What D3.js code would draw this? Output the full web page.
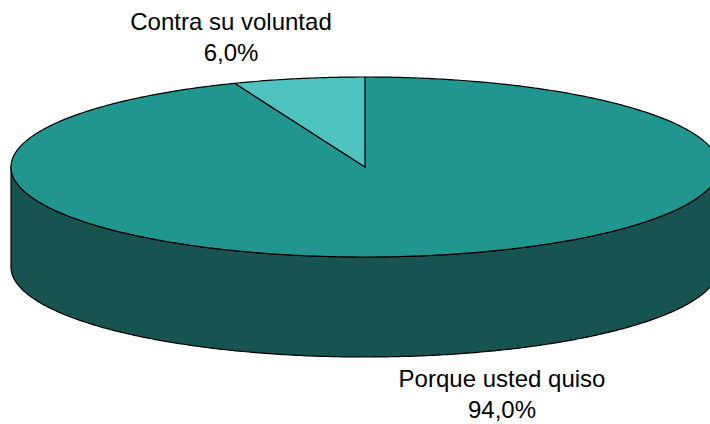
<!DOCTYPE html>
<html>
<head>
<meta charset="utf-8">
<script src="https://cdn.jsdelivr.net/npm/d3@7"></script>
<style>
  body { margin: 0; background: #fff; }
  svg { display: block; }
</style>
</head>
<body>
<script>
// data
const categories = ["Porque usted quiso", "Contra su voluntad"];
const values = [94.0, 6.0];
const valueLabels = ["94,0%", "6,0%"];

const width = 710, height = 424;
const cx = 365, cy = 167, rx = 354, ry = 90, depth = 100;

const topColors = ["#20968f", "#4fc3bf"];
const sideColor = "#175451";

const svg = d3.select("body").append("svg")
    .attr("width", width)
    .attr("height", height);

const pie = d3.pie().sort(null).value(d => d)(values);

// angle in d3 convention (clockwise from 12 o'clock) -> point on ellipse
const pt = (a, dy = 0) => [cx + rx * Math.sin(a), cy - ry * Math.cos(a) + dy];
const line = d3.line();

function arcPoints(a0, a1, dy) {
    const n = Math.max(2, Math.ceil(Math.abs(a1 - a0) / 0.01));
    return d3.range(n + 1).map(i => pt(a0 + (a1 - a0) * i / n, dy));
}

// outer side walls (front half only)
pie.forEach((p, i) => {
    const a0 = Math.max(p.startAngle, Math.PI / 2);
    const a1 = Math.min(p.endAngle, 3 * Math.PI / 2);
    if (a1 <= a0) return;
    const pts = arcPoints(a0, a1, 0).concat(arcPoints(a1, a0, depth));
    svg.append("path")
        .attr("d", line(pts) + "Z")
        .attr("fill", sideColor)
        .attr("stroke", "#000")
        .attr("stroke-width", 1.2)
        .attr("stroke-linejoin", "round");
});

// top faces
pie.forEach((p, i) => {
    const pts = [[cx, cy]].concat(arcPoints(p.startAngle, p.endAngle, 0));
    svg.append("path")
        .attr("d", line(pts) + "Z")
        .attr("fill", topColors[i])
        .attr("stroke", "#000")
        .attr("stroke-width", 1.2)
        .attr("stroke-linejoin", "round");
});

// labels
const labelPos = [[502, 387], [231, 30]];
categories.forEach((c, i) => {
    const t = svg.append("text")
        .attr("x", labelPos[i][0])
        .attr("y", labelPos[i][1])
        .attr("text-anchor", "middle")
        .attr("font-family", "Liberation Sans, Arial, sans-serif")
        .attr("font-size", 24)
        .attr("fill", "#000");
    t.append("tspan").attr("x", labelPos[i][0]).text(c);
    t.append("tspan").attr("x", labelPos[i][0]).attr("dy", 31).text(valueLabels[i]);
});
</script>
</body>
</html>
